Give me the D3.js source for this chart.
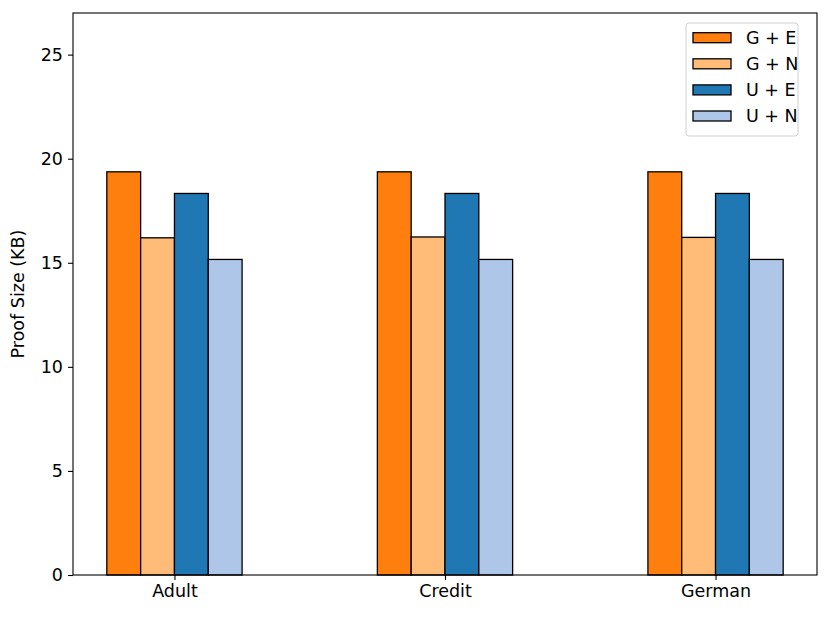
<!DOCTYPE html>
<html>
<head>
<meta charset="utf-8">
<script src="https://cdn.jsdelivr.net/npm/d3@7"></script>
<style>
  body { margin: 0; background: #fff; }
  text { font-family: "DejaVu Sans", sans-serif; }
</style>
</head>
<body>
<div id="chart"></div>
<script>
// data
var datasets = ["Adult", "Credit", "German"];
var series = ["G + E", "G + N", "U + E", "U + N"];
var colors = ["#ff7f0e", "#ffbb78", "#1f77b4", "#aec7e8"];
var gE = [19.37, 19.37, 19.37];
var gN = [16.20, 16.24, 16.22];
var uE = [18.33, 18.33, 18.33];
var uN = [15.16, 15.16, 15.16];
var yTicks = [0, 5, 10, 15, 20, 25];

var values = [gE, gN, uE, uN];

var svgWidth = 830, svgHeight = 619;
var margin = {top: 13, right: 13, bottom: 44, left: 73};
var width = svgWidth - margin.left - margin.right;
var height = svgHeight - margin.top - margin.bottom;
var fs = 17.5;

var svg = d3.select("#chart").append("svg")
    .attr("width", svgWidth)
    .attr("height", svgHeight);

var g = svg.append("g")
    .attr("transform", `translate(${margin.left},${margin.top})`);

var barW = 0.125;
var x = d3.scaleLinear().domain([-0.375, 2.375]).range([0, width]);
var y = d3.scaleLinear().domain([0, 27]).range([height, 0]);

// bars
series.forEach(function(s, i) {
  g.selectAll(".bar" + i)
    .data(values[i])
    .enter().append("rect")
    .attr("x", (d, j) => x(j + (i - 2) * barW))
    .attr("width", x(barW) - x(0))
    .attr("y", d => y(d))
    .attr("height", d => y(0) - y(d))
    .attr("fill", colors[i])
    .attr("stroke", "#000")
    .attr("stroke-width", 1.3);
});

// axes
var xAxis = d3.axisBottom(x).tickValues([0, 1, 2])
    .tickFormat((d, i) => datasets[i]).tickSize(5).tickPadding(5);
var yAxis = d3.axisLeft(y).tickValues(yTicks).tickSize(5).tickPadding(5);

var xg = g.append("g").attr("transform", `translate(0,${height})`).call(xAxis);
var yg = g.append("g").call(yAxis);
[xg, yg].forEach(function(a) {
  a.attr("font-size", fs).attr("font-family", "DejaVu Sans, sans-serif");
  a.select(".domain").remove();
  a.selectAll("text").attr("fill", "#000");
  a.selectAll("line").attr("stroke", "#000").attr("stroke-width", 1.1);
});

// frame
g.append("rect")
  .attr("width", width).attr("height", height)
  .attr("fill", "none").attr("stroke", "#000").attr("stroke-width", 1.1);

// y label
svg.append("text")
  .attr("transform", `translate(24,${margin.top + height / 2}) rotate(-90)`)
  .attr("text-anchor", "middle")
  .attr("font-size", fs)
  .text("Proof Size (KB)");

// legend
var legend = svg.append("g").attr("transform", "translate(686,23)");
legend.append("rect")
  .attr("width", 112).attr("height", 113).attr("rx", 3)
  .attr("fill", "#fff").attr("fill-opacity", 0.8)
  .attr("stroke", "#d0d0d0").attr("stroke-width", 1);
series.forEach(function(s, i) {
  var row = legend.append("g").attr("transform", `translate(0,${14.7 + i * 26.1})`);
  row.append("rect")
    .attr("x", 7).attr("y", -5).attr("width", 38).attr("height", 10)
    .attr("fill", colors[i]).attr("stroke", "#000").attr("stroke-width", 1.3);
  row.append("text")
    .attr("x", 60).attr("y", 6.3)
    .attr("font-size", fs)
    .text(s);
});
</script>
</body>
</html>
